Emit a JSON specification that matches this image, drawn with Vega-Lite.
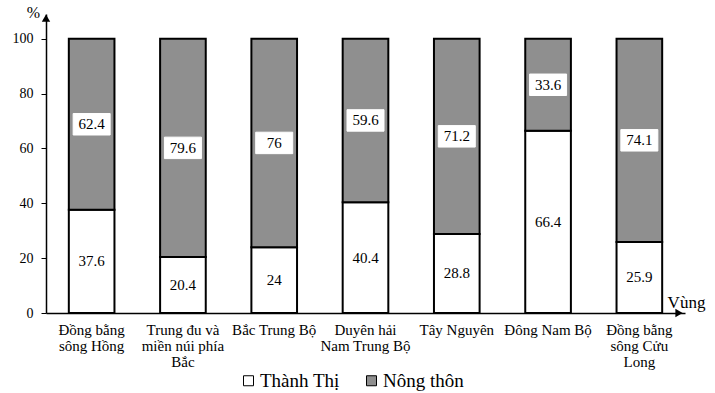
{
  "$schema": "https://vega.github.io/schema/vega-lite/v6.json",
  "width": 639,
  "height": 299,
  "autosize": {"type": "none"},
  "padding": {"left": 46, "top": 14, "right": 30, "bottom": 80},
  "background": "white",
  "config": {
    "view": {"stroke": null},
    "font": "Times New Roman",
    "axis": {"labelFont": "Times New Roman", "titleFont": "Times New Roman", "labelColor": "black", "titleColor": "black", "domainColor": "black", "tickColor": "black", "grid": false, "titleFontWeight": "normal"},
    "legend": {"labelFont": "Times New Roman", "labelColor": "black", "symbolType": "square", "symbolStrokeColor": "black", "symbolStrokeWidth": 1}
  },
  "data": {
    "values": [
      {"region": "Đồng bằng|sông Hồng", "type": "Thành Thị", "value": 37.6, "ord": 1},
      {"region": "Đồng bằng|sông Hồng", "type": "Nông thôn", "value": 62.4, "ord": 2},
      {"region": "Trung đu và|miền núi phía|Bắc", "type": "Thành Thị", "value": 20.4, "ord": 1},
      {"region": "Trung đu và|miền núi phía|Bắc", "type": "Nông thôn", "value": 79.6, "ord": 2},
      {"region": "Bắc Trung Bộ", "type": "Thành Thị", "value": 24, "ord": 1},
      {"region": "Bắc Trung Bộ", "type": "Nông thôn", "value": 76, "ord": 2},
      {"region": "Duyên hải|Nam Trung Bộ", "type": "Thành Thị", "value": 40.4, "ord": 1},
      {"region": "Duyên hải|Nam Trung Bộ", "type": "Nông thôn", "value": 59.6, "ord": 2},
      {"region": "Tây Nguyên", "type": "Thành Thị", "value": 28.8, "ord": 1},
      {"region": "Tây Nguyên", "type": "Nông thôn", "value": 71.2, "ord": 2},
      {"region": "Đông Nam Bộ", "type": "Thành Thị", "value": 66.4, "ord": 1},
      {"region": "Đông Nam Bộ", "type": "Nông thôn", "value": 33.6, "ord": 2},
      {"region": "Đồng bằng|sông Cửu|Long", "type": "Thành Thị", "value": 25.9, "ord": 1},
      {"region": "Đồng bằng|sông Cửu|Long", "type": "Nông thôn", "value": 74.1, "ord": 2}
    ]
  },
  "layer": [
    {
      "mark": {"type": "bar", "stroke": "black", "strokeWidth": 2},
      "encoding": {
        "x": {
          "field": "region", "type": "nominal", "sort": null,
          "scale": {"paddingInner": 0.5, "paddingOuter": 0.25},
          "axis": {
            "labelExpr": "split(datum.value, '|')",
            "labelAngle": 0, "labelFontSize": 15, "labelLineHeight": 16, "labelPadding": 9,
            "ticks": false, "domainWidth": 1.5,
            "title": "Vùng", "titleFontSize": 17, "titleX": 640, "titleY": -6,
            "titleAlign": "center", "titleBaseline": "alphabetic", "titleAnchor": null
          }
        },
        "y": {
          "field": "value", "type": "quantitative", "stack": "zero",
          "scale": {"domain": [0, 109], "nice": false},
          "axis": {
            "values": [0, 20, 40, 60, 80, 100], "tickSize": 5, "labelPadding": 8, "labelFontSize": 14,
            "domainWidth": 1.5, "title": "%", "titleAngle": 0, "titleX": -13, "titleY": -2,
            "titleAlign": "center", "titleBaseline": "middle", "titleFontSize": 16
          }
        },
        "fill": {
          "field": "type", "type": "nominal",
          "scale": {"domain": ["Thành Thị", "Nông thôn"], "range": ["white", "#8f8f8f"]},
          "legend": {
            "title": null, "orient": "none", "legendX": 193, "legendY": 357, "direction": "horizontal",
            "symbolType": "square", "symbolSize": 100, "symbolStrokeColor": "black", "symbolStrokeWidth": 1,
            "labelFontSize": 19, "labelOffset": 2, "columnPadding": 22,
            "encode": {"symbols": {"update": {"shape": {"value": "square"}, "stroke": {"value": "black"}, "strokeWidth": {"value": 1}}}}
          }
        },
        "order": {"field": "ord", "type": "quantitative"}
      }
    },
    {
      "mark": {"type": "point", "shape": "M-1,-0.58L1,-0.58L1,0.58L-1,0.58Z", "filled": true, "fill": "white", "stroke": "white", "strokeWidth": 1, "size": 1369},
      "encoding": {
        "x": {"field": "region", "type": "nominal", "sort": null},
        "y": {"field": "value", "type": "quantitative", "stack": "zero", "bandPosition": 0.5},
        "order": {"field": "ord", "type": "quantitative"},
        "opacity": {"condition": {"test": "datum.type == 'Nông thôn'", "value": 1}, "value": 0}
      }
    },
    {
      "mark": {"type": "text", "fontSize": 15, "color": "black", "font": "Times New Roman", "baseline": "middle"},
      "encoding": {
        "x": {"field": "region", "type": "nominal", "sort": null},
        "y": {"field": "value", "type": "quantitative", "stack": "zero", "bandPosition": 0.5},
        "order": {"field": "ord", "type": "quantitative"},
        "text": {"field": "value", "type": "quantitative"}
      }
    },
    {
      "data": {"values": [{"axis": "y"}]},
      "mark": {"type": "point", "shape": "triangle-up", "filled": true, "color": "black", "opacity": 1, "size": 70},
      "encoding": {"x": {"value": 0}, "y": {"datum": 107.5}}
    },
    {
      "data": {"values": [{"axis": "x"}]},
      "mark": {"type": "point", "shape": "triangle-right", "filled": true, "color": "black", "opacity": 1, "size": 70},
      "encoding": {"x": {"value": 633}, "y": {"datum": 0}}
    }
  ]
}
